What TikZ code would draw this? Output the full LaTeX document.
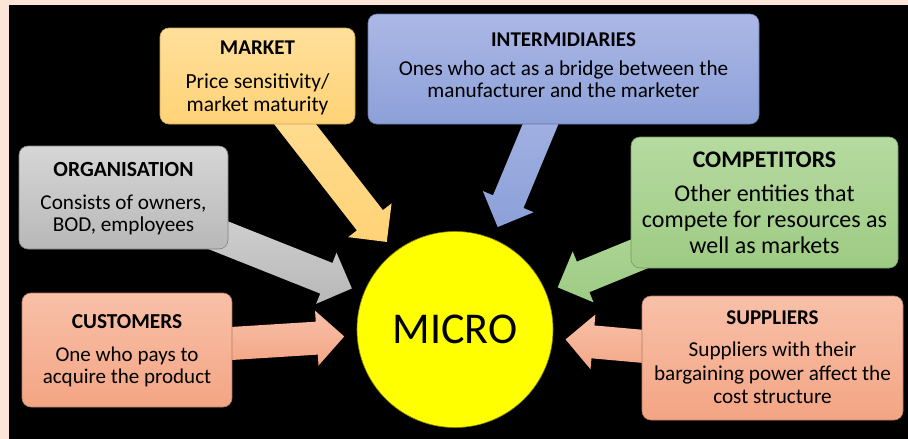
\documentclass[tikz,border=0pt]{standalone}
\usepackage{fontspec}
\setmainfont{Carlito}
\usetikzlibrary{calc}

\definecolor{page}{RGB}{253,228,216}
\definecolor{mktT}{RGB}{255,224,155}\definecolor{mktB}{RGB}{255,210,118}
\definecolor{intT}{RGB}{172,184,230}\definecolor{intB}{RGB}{140,160,216}
\definecolor{orgT}{RGB}{214,214,214}\definecolor{orgB}{RGB}{184,184,184}
\definecolor{salT}{RGB}{248,192,168}\definecolor{salB}{RGB}{243,165,132}
\definecolor{cmpT}{RGB}{182,218,160}\definecolor{cmpB}{RGB}{158,203,132}
\definecolor{microY}{RGB}{255,255,0}

\newcommand\setfs[2]{\fontsize{#1}{#2}\selectfont}

% block arrow from the centre of box #1 towards the circle, shaded with #2
\newcommand\blockarrow[3]{%
  \coordinate (#3-tip) at ($(micro.center)!111pt!(#1.center)$);
  \coordinate (#3-neck) at ($(#3-tip)!27.5pt!(#1.center)$);
  \path[#2]
    ($(#1.center)!16.5pt!90:(#3-tip)$) --
    ($(#3-neck)!16.5pt!90:(#3-tip)$) --
    ($(#3-neck)!27.5pt!90:(#3-tip)$) --
    (#3-tip) --
    ($(#3-neck)!27.5pt!-90:(#3-tip)$) --
    ($(#3-neck)!16.5pt!-90:(#3-tip)$) --
    ($(#1.center)!16.5pt!-90:(#3-tip)$) -- cycle;
}

\pgfdeclarelayer{back}
\pgfdeclarelayer{arrows}
\pgfsetlayers{back,arrows,main}

\tikzset{
  box/.style n args={3}{rounded corners=9pt, inner sep=0pt,
    top color=#1, bottom color=#2, draw=#3, line width=0.6pt},
  mktbox/.style={box={mktT}{mktB}{mktB!80!black}},
  intbox/.style={box={intT}{intB}{intB!75!black}},
  orgbox/.style={box={orgT}{orgB}{orgB!70!black}},
  salbox/.style={box={salT}{salB}{salB!75!black}},
  cmpbox/.style={box={cmpT}{cmpB}{cmpB!75!black}},
  title/.style={inner sep=0pt, text=black},
  % multi-line text: the base anchor sits on the last line
  body/.style={inner sep=0pt, text=black, align=center, anchor=base},
}

\begin{document}
\begin{tikzpicture}[x=1pt, y=-1pt]
  % page and black panel
  \begin{pgfonlayer}{back}
    \fill[page] (0,0) rectangle (908,439);
    \fill[black] (9,5) rectangle (908,439);
  \end{pgfonlayer}
  \useasboundingbox (0,0) rectangle (908,439);

  % centre circle
  \node[circle, minimum size=196pt, inner sep=0pt, fill=microY,
        draw=microY!55!black, line width=0.6pt,
        font=\setfs{44}{48}] (micro) at (455,329.5) {MICRO};

  % boxes
  \node[mktbox, minimum width=195pt, minimum height=96pt]  (mkt)  at (257.5,76)  {};
  \node[intbox, minimum width=391pt, minimum height=110pt] (int)  at (563.5,69)  {};
  \node[orgbox, minimum width=209pt, minimum height=103pt] (org)  at (123.5,197.5) {};
  \node[salbox, minimum width=210pt, minimum height=114pt] (cust) at (127,350)   {};
  \node[cmpbox, minimum width=267pt, minimum height=131pt] (comp) at (764.5,202.5) {};
  \node[salbox, minimum width=261pt, minimum height=124pt] (sup)  at (772.5,358) {};

  % titles
  \node[title, font=\setfs{21}{24}\bfseries]   (mkt-t)  at (257.5,48)  {MARKET};
  \node[title, font=\setfs{21}{24}\bfseries]   (int-t)  at (563.5,40)  {INTERMIDIARIES};
  \node[title, font=\setfs{21.6}{24}\bfseries] (org-t)  at (123.5,169) {ORGANISATION};
  \node[title, font=\setfs{21.3}{24}\bfseries] (cust-t) at (127,321.5) {CUSTOMERS};
  \node[title, font=\setfs{23.8}{26}\bfseries] (comp-t) at (764.5,159.5) {COMPETITORS};
  \node[title, font=\setfs{21}{24}\bfseries]   (sup-t)  at (772.5,318) {SUPPLIERS};

  % descriptions
  \node[body, font=\setfs{21.5}{23}] (mkt-b) at (257.5,111.3)
    {Price sensitivity/\\market maturity};
  \node[body, font=\setfs{21.2}{22}] (int-b) at (563.5,97.7)
    {Ones who act as a bridge between the\\manufacturer and the marketer};
  \node[body, font=\setfs{21.2}{22.5}] (org-b) at (123.5,231.7)
    {Consists of owners,\\BOD, employees};
  \node[body, font=\setfs{21}{21.7}] (cust-b) at (127,383.3)
    {One who pays to\\acquire the product};
  \node[body, font=\setfs{24}{25.8}] (comp-b) at (764.5,253.3)
    {Other entities that\\compete for resources as\\well as markets};
  \node[body, font=\setfs{21.2}{23.3}] (sup-b) at (772.5,403.3)
    {Suppliers with their\\bargaining power affect the\\cost structure};

  % arrows into the circle
  \begin{pgfonlayer}{arrows}
    \blockarrow{mkt}{top color=mktT, bottom color=mktB}{a1}
    \blockarrow{int}{top color=intT, bottom color=intB}{a2}
    \blockarrow{org}{top color=orgT!95!white, bottom color=orgB}{a3}
    \blockarrow{cust}{top color=salT, bottom color=salB}{a4}
    \blockarrow{comp}{top color=cmpT, bottom color=cmpB}{a5}
    \blockarrow{sup}{top color=salT, bottom color=salB}{a6}
  \end{pgfonlayer}
\end{tikzpicture}
\end{document}
